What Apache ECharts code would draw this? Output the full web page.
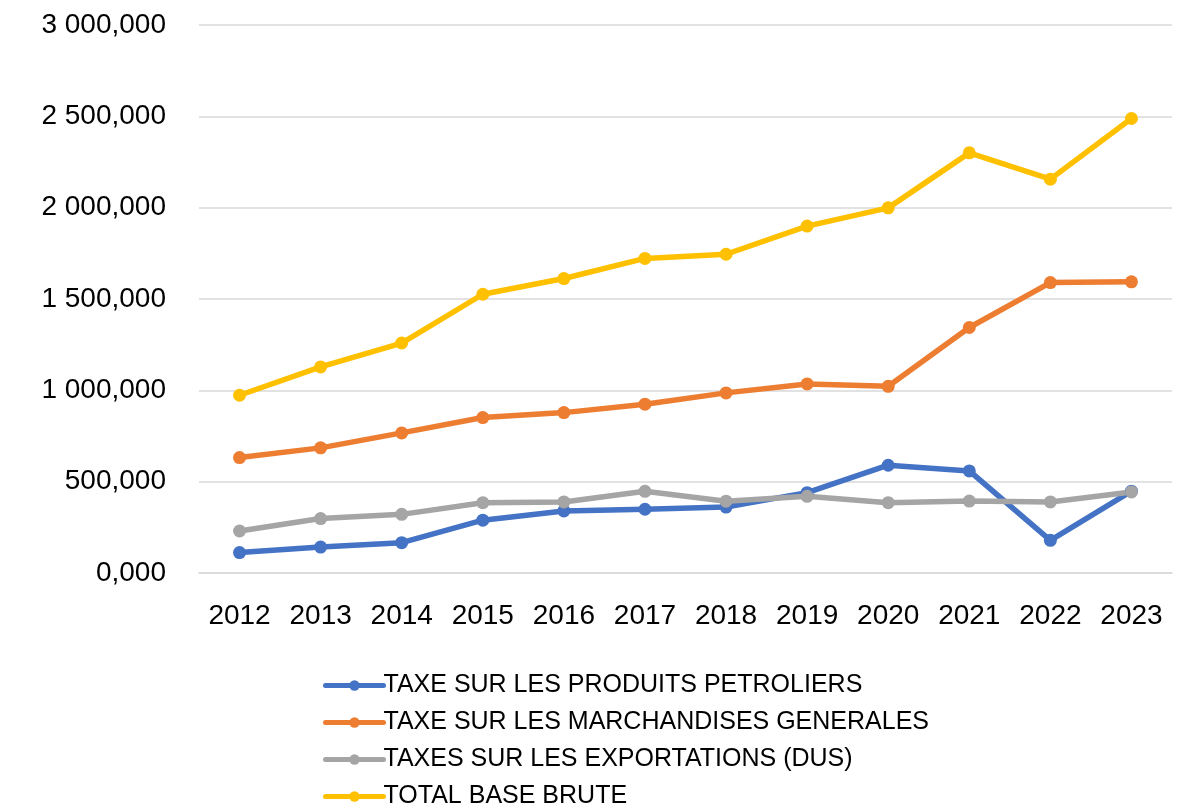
<!DOCTYPE html>
<html>
<head>
    <meta charset="utf-8">
    <title>Base brute</title>
    <script src="https://cdn.jsdelivr.net/npm/echarts@6/dist/echarts.min.js"></script>
    <style>
        html, body { margin: 0; padding: 0; background: #fff; }
        #main { width: 1178px; height: 812px; }
    </style>
</head>
<body>
    <div id="main"></div>
    <script type="text/javascript">
        // données
        var years = ['2012','2013','2014','2015','2016','2017','2018','2019','2020','2021','2022','2023'];
        var petroliers = [112, 142, 166, 289, 340, 349, 361, 440, 590, 559, 179, 448];
        var marchandises = [632, 685, 767, 851, 878, 924, 986, 1035, 1022, 1344, 1590, 1594];
        var exportations = [230, 298, 321, 385, 389, 447, 393, 420, 385, 394, 389, 444];
        var totalBrute = [973, 1128, 1259, 1526, 1612, 1722, 1745, 1899, 1999, 2300, 2156, 2488];
        var yTickLabels = ['0,000', '500,000', '1 000,000', '1 500,000', '2 000,000', '2 500,000', '3 000,000'];

        var names = ['TAXE SUR LES PRODUITS PETROLIERS', 'TAXE SUR LES MARCHANDISES GENERALES', 'TAXES SUR LES EXPORTATIONS (DUS)', 'TOTAL BASE BRUTE'];
        var colors = ['#4472C4', '#ED7D31', '#A5A5A5', '#FFC000'];
        var datas = [petroliers, marchandises, exportations, totalBrute];

        var myChart = echarts.init(document.getElementById('main'));

        var series = [];
        for (var i = 0; i < names.length; i++) {
            series.push({
                name: names[i],
                type: 'line',
                data: datas[i],
                symbol: 'circle',
                symbolSize: 13,
                color: colors[i],
                lineStyle: { width: 5.5, color: colors[i], cap: 'round', join: 'round' },
                itemStyle: { color: colors[i] }
            });
        }

        myChart.setOption({
            animation: false,
            textStyle: { fontFamily: '"Liberation Sans", Arial, sans-serif' },
            grid: { left: 199, right: 6, top: 25, bottom: 239 },
            legend: {
                orient: 'vertical',
                left: 318,
                top: 668,
                height: 220,
                itemWidth: 58,
                itemHeight: 13,
                itemGap: 12,
                lineStyle: { width: 5 },
                textStyle: { fontSize: 25, color: '#000', padding: [0, 0, 0, -5] },
                data: names
            },
            xAxis: {
                type: 'category',
                data: years,
                axisLine: { show: true, lineStyle: { color: '#D9D9D9', width: 1.5 } },
                axisTick: { show: false },
                axisLabel: { fontSize: 28, color: '#000', margin: 29 }
            },
            yAxis: {
                type: 'value',
                min: 0,
                max: 3000,
                interval: 500,
                axisLine: { show: false },
                axisTick: { show: false },
                splitLine: { lineStyle: { color: '#D9D9D9', width: 1.5 } },
                axisLabel: {
                    fontSize: 28,
                    color: '#000',
                    margin: 33,
                    formatter: function (v) { return yTickLabels[Math.round(v / 500)]; }
                }
            },
            series: series
        });
    </script>
</body>
</html>
